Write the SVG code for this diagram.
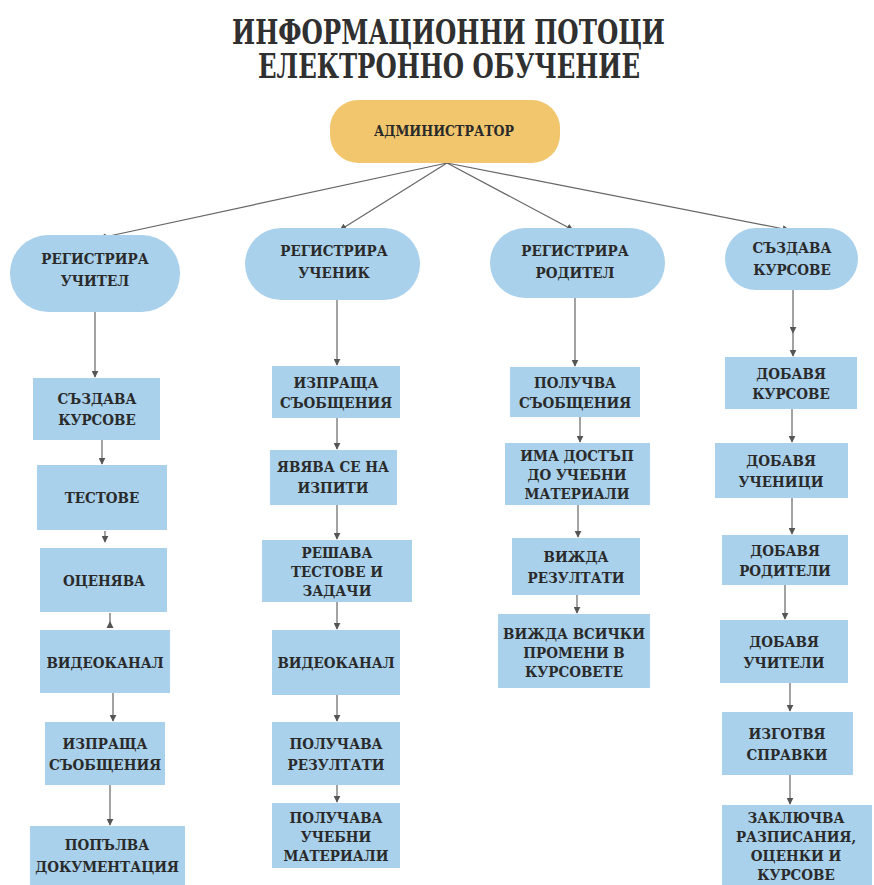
<svg xmlns="http://www.w3.org/2000/svg" width="874" height="885" viewBox="0 0 874 885">
  <defs>
    <marker id="arrow" viewBox="0 0 10 10" refX="9" refY="5" markerWidth="7" markerHeight="7" orient="auto" markerUnits="userSpaceOnUse">
      <path d="M0,0 L10,5 L0,10 z" fill="#555"/>
    </marker>
    <style>
      text { font-family: "DejaVu Serif Condensed", "DejaVu Serif", serif; font-weight: bold; text-anchor: middle; fill: #2a2a2a; font-size: 15px; }
      .title { font-size: 33px; fill: #303030; }
      .admin { fill: #F2C66C; }
      .node rect { fill: #A9D1EC; }
      .conn line { stroke: #666; stroke-width: 1.2; marker-end: url(#arrow); }
    </style>
  </defs>

  <rect width="874" height="885" fill="#ffffff"/>

  <!-- heading -->
  <g id="heading">
    <text class="title" x="448.5" y="44" textLength="433" lengthAdjust="spacingAndGlyphs">ИНФОРМАЦИОННИ ПОТОЦИ</text>
    <text class="title" x="449" y="78" textLength="382" lengthAdjust="spacingAndGlyphs">ЕЛЕКТРОННО ОБУЧЕНИЕ</text>
  </g>

  <!-- connectors -->
  <g id="connectors" class="conn">
    <line x1="447" y1="163" x2="100" y2="238"/>
    <line x1="447" y1="163" x2="340" y2="230"/>
    <line x1="447" y1="163" x2="573" y2="230"/>
    <line x1="447" y1="163" x2="789" y2="230"/>

    <!-- teacher column -->
    <line x1="95" y1="312" x2="95" y2="377"/>
    <line x1="102" y1="440" x2="102" y2="464"/>
    <line x1="105" y1="531" x2="105" y2="542"/>
    <line x1="113" y1="693" x2="113" y2="721"/>
    <line x1="110" y1="785" x2="110" y2="825"/>

    <!-- student column -->
    <line x1="337" y1="300" x2="337" y2="365"/>
    <line x1="337" y1="418" x2="337" y2="449"/>
    <line x1="337" y1="505" x2="337" y2="539"/>
    <line x1="337" y1="602" x2="337" y2="629"/>
    <line x1="337" y1="695" x2="337" y2="721"/>
    <line x1="337" y1="785" x2="337" y2="802"/>

    <!-- parent column -->
    <line x1="575" y1="298" x2="575" y2="366"/>
    <line x1="580" y1="417" x2="580" y2="442"/>
    <line x1="578" y1="505" x2="578" y2="537"/>
    <line x1="577" y1="595" x2="577" y2="613"/>

    <!-- courses column -->
    <line x1="793" y1="290" x2="793" y2="333"/>
    <line x1="793" y1="333" x2="793" y2="356"/>
    <line x1="792" y1="409" x2="792" y2="442"/>
    <line x1="792" y1="498" x2="792" y2="534"/>
    <line x1="785" y1="585" x2="785" y2="619"/>
    <line x1="790" y1="683" x2="790" y2="711"/>
    <line x1="790" y1="775" x2="790" y2="804"/>
  </g>
  <!-- short link with an upward head between ОЦЕНЯВА and ВИДЕОКАНАЛ -->
  <g id="up-link">
    <line x1="110" y1="613" x2="110" y2="624" stroke="#666" stroke-width="1.2"/>
    <path d="M110,621 L113.5,628 L106.5,628 z" fill="#555"/>
  </g>

  <!-- root -->
  <g id="admin">
    <rect class="admin" x="330" y="100" width="230" height="63" rx="28"/>
    <text x="444" y="136" style="font-size:14px">АДМИНИСТРАТОР</text>
  </g>

  <!-- first level -->
  <g id="reg-teacher" class="node">
    <rect x="10" y="235" width="170" height="77" rx="38"/>
    <text x="95" y="264">РЕГИСТРИРА</text>
    <text x="95" y="286">УЧИТЕЛ</text>
  </g>
  <g id="reg-student" class="node">
    <rect x="245" y="228" width="175" height="72" rx="36"/>
    <text x="334" y="256">РЕГИСТРИРА</text>
    <text x="334" y="278">УЧЕНИК</text>
  </g>
  <g id="reg-parent" class="node">
    <rect x="490" y="228" width="175" height="70" rx="35"/>
    <text x="575" y="256">РЕГИСТРИРА</text>
    <text x="575" y="278">РОДИТЕЛ</text>
  </g>
  <g id="create-courses" class="node">
    <rect x="725" y="228" width="133" height="62" rx="31"/>
    <text x="792" y="253">СЪЗДАВА</text>
    <text x="792" y="275">КУРСОВЕ</text>
  </g>

  <!-- teacher column -->
  <g id="t-courses" class="node">
    <rect x="33" y="378" width="127" height="62"/>
    <text x="97" y="404">СЪЗДАВА</text>
    <text x="97" y="425">КУРСОВЕ</text>
  </g>
  <g id="t-tests" class="node">
    <rect x="37" y="465" width="130" height="65"/>
    <text x="102" y="503">ТЕСТОВЕ</text>
  </g>
  <g id="t-grades" class="node">
    <rect x="40" y="548" width="127" height="64"/>
    <text x="104" y="586">ОЦЕНЯВА</text>
  </g>
  <g id="t-video" class="node">
    <rect x="40" y="630" width="130" height="63"/>
    <text x="105" y="668">ВИДЕОКАНАЛ</text>
  </g>
  <g id="t-messages" class="node">
    <rect x="45" y="722" width="120" height="63"/>
    <text x="105" y="749">ИЗПРАЩА</text>
    <text x="105" y="770">СЪОБЩЕНИЯ</text>
  </g>
  <g id="t-docs" class="node">
    <rect x="30" y="826" width="155" height="62"/>
    <text x="107" y="850">ПОПЪЛВА</text>
    <text x="107" y="872">ДОКУМЕНТАЦИЯ</text>
  </g>

  <!-- student column -->
  <g id="s-messages" class="node">
    <rect x="272" y="366" width="128" height="52"/>
    <text x="336" y="388">ИЗПРАЩА</text>
    <text x="336" y="408">СЪОБЩЕНИЯ</text>
  </g>
  <g id="s-exams" class="node">
    <rect x="270" y="450" width="127" height="55"/>
    <text x="333" y="472">ЯВЯВА СЕ НА</text>
    <text x="333" y="493">ИЗПИТИ</text>
  </g>
  <g id="s-tasks" class="node">
    <rect x="262" y="540" width="150" height="62"/>
    <text x="337" y="558">РЕШАВА</text>
    <text x="337" y="577">ТЕСТОВЕ И</text>
    <text x="337" y="596">ЗАДАЧИ</text>
  </g>
  <g id="s-video" class="node">
    <rect x="272" y="630" width="128" height="65"/>
    <text x="336" y="668">ВИДЕОКАНАЛ</text>
  </g>
  <g id="s-results" class="node">
    <rect x="272" y="722" width="128" height="63"/>
    <text x="336" y="749">ПОЛУЧАВА</text>
    <text x="336" y="770">РЕЗУЛТАТИ</text>
  </g>
  <g id="s-materials" class="node">
    <rect x="272" y="803" width="128" height="65"/>
    <text x="336" y="823">ПОЛУЧАВА</text>
    <text x="336" y="842">УЧЕБНИ</text>
    <text x="336" y="861">МАТЕРИАЛИ</text>
  </g>

  <!-- parent column -->
  <g id="p-messages" class="node">
    <rect x="510" y="367" width="130" height="50"/>
    <text x="575" y="388">ПОЛУЧВА</text>
    <text x="575" y="408">СЪОБЩЕНИЯ</text>
  </g>
  <g id="p-materials" class="node">
    <rect x="505" y="443" width="145" height="62"/>
    <text x="577" y="461">ИМА ДОСТЪП</text>
    <text x="577" y="480">ДО УЧЕБНИ</text>
    <text x="577" y="499">МАТЕРИАЛИ</text>
  </g>
  <g id="p-results" class="node">
    <rect x="512" y="538" width="128" height="57"/>
    <text x="576" y="562">ВИЖДА</text>
    <text x="576" y="583">РЕЗУЛТАТИ</text>
  </g>
  <g id="p-changes" class="node">
    <rect x="498" y="614" width="152" height="74"/>
    <text x="574" y="639">ВИЖДА ВСИЧКИ</text>
    <text x="574" y="658">ПРОМЕНИ В</text>
    <text x="574" y="677">КУРСОВЕТЕ</text>
  </g>

  <!-- courses column -->
  <g id="c-courses" class="node">
    <rect x="725" y="357" width="132" height="52"/>
    <text x="791" y="379">ДОБАВЯ</text>
    <text x="791" y="399">КУРСОВЕ</text>
  </g>
  <g id="c-students" class="node">
    <rect x="715" y="443" width="133" height="55"/>
    <text x="781" y="466">ДОБАВЯ</text>
    <text x="781" y="487">УЧЕНИЦИ</text>
  </g>
  <g id="c-parents" class="node">
    <rect x="722" y="535" width="126" height="50"/>
    <text x="785" y="556">ДОБАВЯ</text>
    <text x="785" y="576">РОДИТЕЛИ</text>
  </g>
  <g id="c-teachers" class="node">
    <rect x="720" y="620" width="128" height="63"/>
    <text x="784" y="647">ДОБАВЯ</text>
    <text x="784" y="668">УЧИТЕЛИ</text>
  </g>
  <g id="c-reports" class="node">
    <rect x="722" y="712" width="131" height="63"/>
    <text x="787" y="739">ИЗГОТВЯ</text>
    <text x="787" y="760">СПРАВКИ</text>
  </g>
  <g id="c-lock" class="node">
    <rect x="722" y="805" width="150" height="82"/>
    <text x="796" y="823">ЗАКЛЮЧВА</text>
    <text x="796" y="842">РАЗПИСАНИЯ,</text>
    <text x="796" y="861">ОЦЕНКИ И</text>
    <text x="796" y="880">КУРСОВЕ</text>
  </g>
</svg>
